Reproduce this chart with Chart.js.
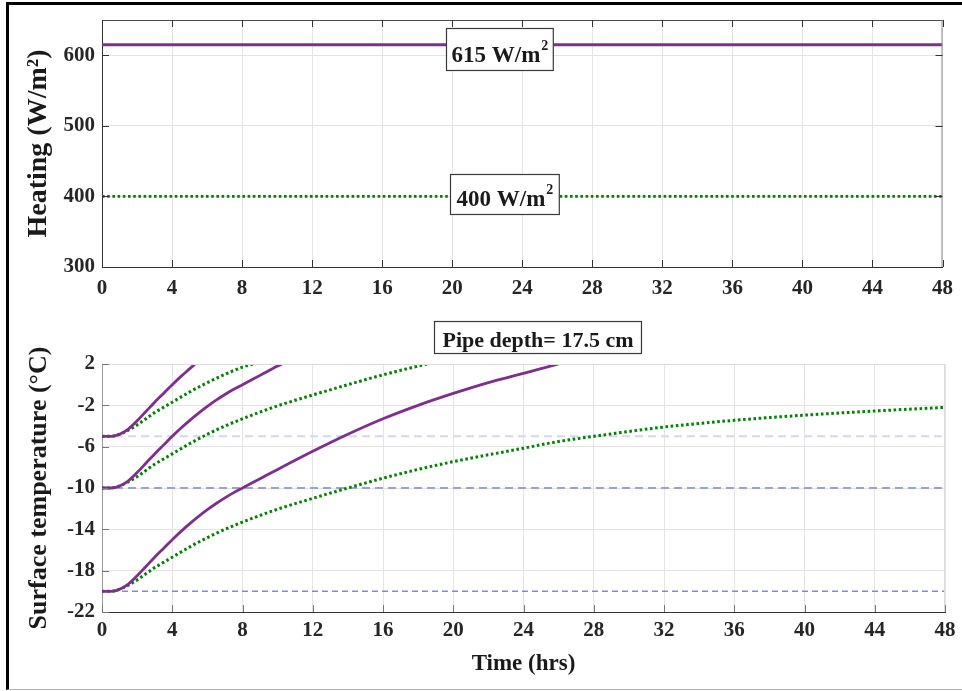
<!DOCTYPE html>
<html>
<head>
<meta charset="utf-8">
<script src="https://cdn.jsdelivr.net/npm/chart.js@4.4.1/dist/chart.umd.min.js"></script>
<style>
  body { margin: 0; background: #fff; }
  #figure { position: relative; width: 962px; height: 691px; overflow: hidden; background: #fff; }
  #frame { position: absolute; left: 6px; top: 2px; width: 980px; height: 684px;
           border-top: 3px solid #000; border-left: 3px solid #000; border-bottom: 1px solid #b4b4b4; }
  canvas { position: absolute; left: 0; }
</style>
</head>
<body>
<div id="figure">
  <div id="frame"></div>
  <canvas id="heatChart" width="962" height="310" style="top:0"></canvas>
  <canvas id="tempChart" width="962" height="381" style="top:310px"></canvas>
</div>
<script>
// --- Data ---
const timeTicks = [0, 4, 8, 12, 16, 20, 24, 28, 32, 36, 40, 44, 48];
const heatTicks = [300, 400, 500, 600];
const tempTicks = [-22, -18, -14, -10, -6, -2, 2];

// heating flux levels (W/m²)
const heatTime = [0, 48];
const heatHigh = [615, 615];
const heatLow = [400, 400];

// initial surface temperatures (°C)
const startTime = [0, 48];
const start5 = [-5, -5];
const start10 = [-10, -10];
const start20 = [-20, -20];

// 615 W/m² runs
const hiTime5 = [0, 0.5, 1, 1.5, 2, 2.5, 3, 3.5, 4, 4.5, 5, 5.3];
const hiTemp5 = [-5, -5, -4.8, -4.3, -3.5, -2.6, -1.7, -0.85, 0.0, 0.8, 1.55, 2.0];
const hiTime10 = [0, 0.5, 1, 1.5, 2, 2.5, 3, 3.5, 4, 4.5, 5, 5.5, 6, 6.5, 7, 7.5, 8, 9, 10, 10.25];
const hiTemp10 = [-10, -10, -9.8, -9.3, -8.5, -7.6, -6.7, -5.85, -5.0, -4.2, -3.45, -2.75, -2.1, -1.5, -0.95, -0.45, 0.0, 0.9, 1.8, 2.0];
const hiTime20 = [0, 0.5, 1, 1.5, 2, 2.5, 3, 3.5, 4, 4.5, 5, 5.5, 6, 6.5, 7, 7.5, 8, 9, 10, 12, 14, 16, 18, 20, 22, 24, 26];
const hiTemp20 = [-20, -20, -19.8, -19.3, -18.5, -17.6, -16.7, -15.85, -15.0, -14.2, -13.45, -12.75, -12.1, -11.5, -10.95, -10.45, -10.0, -9.1, -8.2, -6.45, -4.8, -3.3, -2.0, -0.85, 0.2, 1.1, 2.0];

// 400 W/m² runs
const loTime5 = [0, 0.5, 1, 1.5, 2, 2.5, 3, 3.5, 4, 5, 6, 7, 8, 8.6];
const loTemp5 = [-5, -5, -4.8, -4.4, -3.9, -3.3, -2.7, -2.2, -1.7, -0.7, 0.2, 1.0, 1.7, 2.0];
const loTime10 = [0, 0.5, 1, 1.5, 2, 2.5, 3, 3.5, 4, 5, 6, 7, 8, 9, 10, 12, 14, 16, 18, 18.5];
const loTemp10 = [-10, -10, -9.8, -9.4, -8.9, -8.3, -7.7, -7.2, -6.7, -5.7, -4.8, -4.0, -3.3, -2.65, -2.05, -1.0, 0.0, 0.95, 1.8, 2.0];
const loTime20 = [0, 0.5, 1, 1.5, 2, 2.5, 3, 3.5, 4, 5, 6, 7, 8, 9, 10, 12, 14, 16, 18, 20, 24, 26, 28, 32, 36, 40, 44, 48];
const loTemp20 = [-20, -20, -19.8, -19.4, -18.9, -18.3, -17.7, -17.2, -16.7, -15.7, -14.8, -14.0, -13.3, -12.65, -12.05, -11.0, -10.0, -9.05, -8.2, -7.45, -6.15, -5.5, -5.0, -4.1, -3.45, -2.95, -2.55, -2.2];

// --- Styles ---
const serif = '"Liberation Serif", "Times New Roman", serif';
const PURPLE = "#7e2f8e";
const GREEN = "#008000";
const DOTS = [2.6, 2.6];

function pts(xs, ys) {
  return xs.map((x, i) => ({ x: x, y: ys[i] }));
}

function line(label, xs, ys, color, width, dash) {
  return {
    label: label,
    data: pts(xs, ys),
    borderColor: color,
    borderWidth: width,
    borderDash: dash || [],
    borderCapStyle: "butt",
    pointRadius: 0,
    cubicInterpolationMode: "monotone",
    fill: false,
  };
}

// box edges and inward tick marks
const axesFrame = {
  id: "axesFrame",
  afterDatasetsDraw(chart, args, opts) {
    const { ctx, chartArea: a, scales } = chart;
    ctx.save();
    ctx.lineWidth = 1;
    ctx.strokeStyle = opts.topColor;
    ctx.beginPath();
    ctx.moveTo(a.left, a.top + 0.5);
    ctx.lineTo(a.right, a.top + 0.5);
    ctx.stroke();
    ctx.strokeStyle = opts.rightColor;
    ctx.beginPath();
    ctx.moveTo(a.right - 0.5, a.top);
    ctx.lineTo(a.right - 0.5, a.bottom);
    ctx.stroke();

    ctx.strokeStyle = opts.tickColor;
    ctx.beginPath();
    timeTicks.forEach((v) => {
      const px = Math.round(scales.x.getPixelForValue(v)) + 0.5;
      ctx.moveTo(px, a.bottom);
      ctx.lineTo(px, a.bottom - 7);
      if (opts.allSides) {
        ctx.moveTo(px, a.top);
        ctx.lineTo(px, a.top + 7);
      }
    });
    scales.y.ticks.forEach((t) => {
      const py = Math.round(scales.y.getPixelForValue(t.value)) + 0.5;
      ctx.moveTo(a.left, py);
      ctx.lineTo(a.left + 7, py);
      if (opts.allSides) {
        ctx.moveTo(a.right, py);
        ctx.lineTo(a.right - 7, py);
      }
    });
    ctx.stroke();
    ctx.restore();
  },
};

// boxed text labels, placed in data units
const boxedNotes = {
  id: "boxedNotes",
  afterDatasetsDraw(chart, args, opts) {
    const { ctx, scales } = chart;
    ctx.save();
    opts.notes.forEach((n) => {
      const cx = scales.x.getPixelForValue(n.x);
      const cy = scales.y.getPixelForValue(n.y);
      const mainFont = "bold " + n.size + "px " + serif;
      const supFont = "bold " + Math.round(n.size * 0.62) + "px " + serif;
      ctx.font = mainFont;
      const wMain = ctx.measureText(n.text).width;
      ctx.font = supFont;
      const wSup = n.sup ? ctx.measureText(n.sup).width + 1 : 0;
      const w = wMain + wSup + n.padX * 2;
      const left = Math.round(cx - w / 2) + 0.5;
      const top = Math.round(cy - n.h / 2) + 0.5;
      ctx.fillStyle = "#fff";
      ctx.fillRect(left, top, w, n.h);
      ctx.strokeStyle = "#3a3a3a";
      ctx.lineWidth = 1.2;
      ctx.strokeRect(left, top, w, n.h);
      ctx.fillStyle = "#1a1a1a";
      ctx.textBaseline = "alphabetic";
      ctx.textAlign = "left";
      ctx.font = mainFont;
      const base = top + n.h - n.baseGap;
      ctx.fillText(n.text, left + n.padX, base);
      if (n.sup) {
        ctx.font = supFont;
        ctx.fillText(n.sup, left + n.padX + wMain + 1, base - n.size * 0.48);
      }
    });
    ctx.restore();
  },
};

function xScale(pad, withTitle) {
  return {
    type: "linear",
    min: 0,
    max: 48,
    afterBuildTicks: (s) => { s.ticks = timeTicks.map((v) => ({ value: v })); },
    ticks: { font: { family: serif, size: 21, weight: "bold" }, color: "#262626", padding: pad, maxRotation: 0 },
    grid: { color: "#e4e4e4", drawTicks: false },
    border: { color: "#333", width: 1 },
    title: withTitle
      ? { display: true, text: "Time (hrs)", font: { family: serif, size: 23, weight: "bold" }, color: "#1a1a1a", padding: { top: 0, bottom: 13 } }
      : { display: false },
  };
}

function yScale(min, max, ticks, title, titleSize, borderColor) {
  return {
    type: "linear",
    min: min,
    max: max,
    afterBuildTicks: (s) => { s.ticks = ticks.map((v) => ({ value: v })); },
    afterFit: (s) => { s.width = 102; },
    ticks: { font: { family: serif, size: 21, weight: "bold" }, color: "#262626", padding: 7 },
    grid: { color: "#e4e4e4", drawTicks: false },
    border: { color: borderColor, width: 1 },
    title: { display: true, text: title, font: { family: serif, size: titleSize, weight: "bold" }, color: "#1a1a1a", padding: { top: 40 - titleSize * 0.6 - 1, bottom: 0 } },
  };
}

// --- Heating chart ---
const heatX = xScale(9, false);
heatX.afterFit = (s) => { s.height = 43; };

new Chart(document.getElementById("heatChart"), {
  type: "line",
  data: {
    datasets: [
      line("615 W/m²", heatTime, heatHigh, PURPLE, 3),
      line("400 W/m²", heatTime, heatLow, GREEN, 2.8, DOTS),
    ],
  },
  options: {
    responsive: false,
    animation: false,
    layout: { padding: { top: 20, right: 17, bottom: 0, left: 0 } },
    scales: { x: heatX, y: yScale(300, 650, heatTicks, "Heating (W/m²)", 28, "#333") },
    plugins: {
      legend: { display: false },
      tooltip: { enabled: false },
      axesFrame: { topColor: "#4a4a4a", rightColor: "#8a8a8a", tickColor: "#333", allSides: true },
      boxedNotes: {
        notes: [
          { x: 22.7, y: 609.5, text: "615 W/m", sup: "2", size: 23, padX: 5, h: 42, baseGap: 9 },
          { x: 23.0, y: 404, text: "400 W/m", sup: "2", size: 23, padX: 6, h: 40, baseGap: 9 },
        ],
      },
    },
  },
  plugins: [axesFrame, boxedNotes],
});

// --- Surface temperature chart ---
const tempX = xScale(6, true);
tempX.afterFit = (s) => { s.height = 79; };

new Chart(document.getElementById("tempChart"), {
  type: "line",
  data: {
    datasets: [
      line("615 W/m², -5 °C", hiTime5, hiTemp5, PURPLE, 2.8),
      line("615 W/m², -10 °C", hiTime10, hiTemp10, PURPLE, 2.8),
      line("615 W/m², -20 °C", hiTime20, hiTemp20, PURPLE, 2.8),
      line("400 W/m², -5 °C", loTime5, loTemp5, GREEN, 3, DOTS),
      line("400 W/m², -10 °C", loTime10, loTemp10, GREEN, 3, DOTS),
      line("400 W/m², -20 °C", loTime20, loTemp20, GREEN, 3, DOTS),
      line("Initial -5 °C", startTime, start5, "#d3d8f0", 2, [8, 5]),
      line("Initial -10 °C", startTime, start10, "#98a2d4", 1.8, [8, 5]),
      line("Initial -20 °C", startTime, start20, "#7c8cd8", 1.5, [6, 4]),
    ],
  },
  options: {
    responsive: false,
    animation: false,
    layout: { padding: { top: 54, right: 17, bottom: 0, left: 0 } },
    scales: { x: tempX, y: yScale(-22, 2, tempTicks, "Surface temperature (°C)", 26, "#9a9a9a") },
    plugins: {
      legend: { display: false },
      tooltip: { enabled: false },
      axesFrame: { topColor: "#dcdcdc", rightColor: "#dcdcdc", tickColor: "#777", allSides: false },
      boxedNotes: {
        notes: [{ x: 24.8, y: 4.65, text: "Pipe depth= 17.5 cm", sup: "", size: 22, padX: 8, h: 32, baseGap: 7 }],
      },
    },
  },
  plugins: [axesFrame, boxedNotes],
});
</script>
</body>
</html>
